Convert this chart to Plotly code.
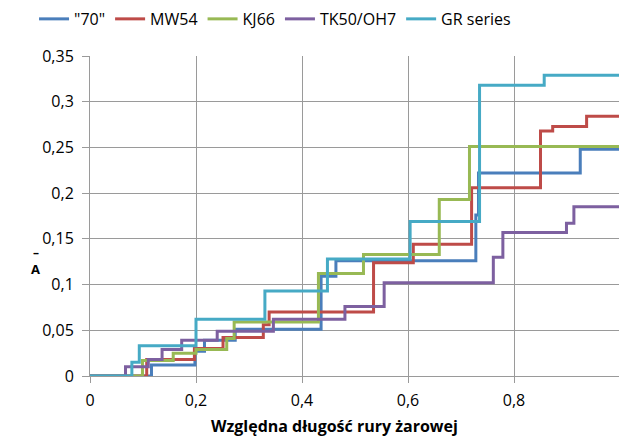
import plotly.graph_objects as go

# ---- data (step functions) ----
names = ['"70"', "MW54", "KJ66", "TK50/OH7", "GR series"]

x_70 = [0, 0.116, 0.198, 0.216, 0.274, 0.436, 0.464, 0.728, 0.733, 0.925, 1.0]
y_70 = [0, 0.012, 0.027, 0.039, 0.051, 0.109, 0.126, 0.176, 0.222, 0.248, 0.248]

x_mw = [0, 0.107, 0.197, 0.251, 0.327, 0.338, 0.535, 0.610, 0.720, 0.850, 0.873, 0.937, 1.0]
y_mw = [0, 0.018, 0.030, 0.042, 0.056, 0.070, 0.124, 0.144, 0.206, 0.268, 0.273, 0.284, 0.284]

x_kj = [0, 0.099, 0.157, 0.200, 0.258, 0.272, 0.431, 0.516, 0.659, 0.716, 1.0]
y_kj = [0, 0.017, 0.025, 0.029, 0.041, 0.059, 0.112, 0.133, 0.193, 0.251, 0.251]

x_tk = [0, 0.067, 0.110, 0.136, 0.173, 0.240, 0.346, 0.481, 0.555, 0.761, 0.779, 0.899, 0.913, 1.0]
y_tk = [0, 0.010, 0.018, 0.029, 0.039, 0.049, 0.062, 0.076, 0.102, 0.130, 0.157, 0.167, 0.185, 0.185]

x_gr = [0, 0.079, 0.093, 0.200, 0.330, 0.448, 0.604, 0.735, 0.857, 1.0]
y_gr = [0, 0.015, 0.033, 0.062, 0.093, 0.128, 0.169, 0.318, 0.329, 0.329]

colors = ["#4A7EBB", "#BE4B48", "#98B954", "#7D60A0", "#46AAC5"]

y_ticks = [0, 0.05, 0.1, 0.15, 0.2, 0.25, 0.3, 0.35]
y_ticktext = ["0", "0,05", "0,1", "0,15", "0,2", "0,25", "0,3", "0,35"]
x_ticks = [0, 0.2, 0.4, 0.6, 0.8, 1.0]
x_ticktext = ["0", "0,2", "0,4", "0,6", "0,8", "1"]

x_title = "Względna długość rury żarowej"
y_title_bar = "–"
y_title = "A"

FONT = "Open Sans"
GRID = "#9A9A9A"

fig = go.Figure()
series = [(x_70, y_70), (x_mw, y_mw), (x_kj, y_kj), (x_tk, y_tk), (x_gr, y_gr)]
for (xs, ys), name, c in zip(series, names, colors):
    fig.add_trace(go.Scatter(x=xs, y=ys, mode="lines", name=name,
                             line=dict(color=c, width=3, shape="hv")))

fig.update_layout(
    width=619, height=441,
    margin=dict(l=90, r=0, t=56, b=65),
    paper_bgcolor="white", plot_bgcolor="white",
    font=dict(family=FONT, size=16, color="#000000"),
    showlegend=True,
    legend=dict(orientation="h", xref="container", x=0.055, xanchor="left",
                yref="container", y=0.957, yanchor="middle",
                font=dict(size=16, family=FONT),
                bgcolor="rgba(0,0,0,0)", itemwidth=30, tracegroupgap=0),
    xaxis=dict(range=[0, 529/530], tickvals=x_ticks, ticktext=x_ticktext,
               showgrid=True, gridcolor=GRID, gridwidth=1,
               showline=True, linecolor=GRID, linewidth=1,
               ticks="outside", ticklen=6, tickcolor=GRID, ticklabelstandoff=4,
               zeroline=False, tickfont=dict(size=16, family=FONT)),
    yaxis=dict(range=[0, 0.35], tickvals=y_ticks, ticktext=y_ticktext,
               showgrid=True, gridcolor=GRID, gridwidth=1,
               showline=True, linecolor=GRID, linewidth=1,
               ticks="outside", ticklen=7, tickcolor=GRID, ticklabelstandoff=5,
               zeroline=False, tickfont=dict(size=16, family=FONT)),
)

fig.add_annotation(text="<b>" + x_title + "</b>", xref="paper", yref="paper",
                   x=0.463, y=-0.155, xanchor="center", yanchor="middle",
                   showarrow=False, font=dict(size=16, family=FONT))
fig.add_annotation(text="<b>" + y_title_bar + "</b>", xref="paper", yref="paper",
                   x=-0.103, y=0.385, xanchor="center", yanchor="middle",
                   showarrow=False, font=dict(size=12, family=FONT))
fig.add_annotation(text="<b>" + y_title + "</b>", xref="paper", yref="paper",
                   x=-0.103, y=0.334, xanchor="center", yanchor="middle",
                   showarrow=False, font=dict(size=13, family=FONT))

fig.write_html("out.html")
